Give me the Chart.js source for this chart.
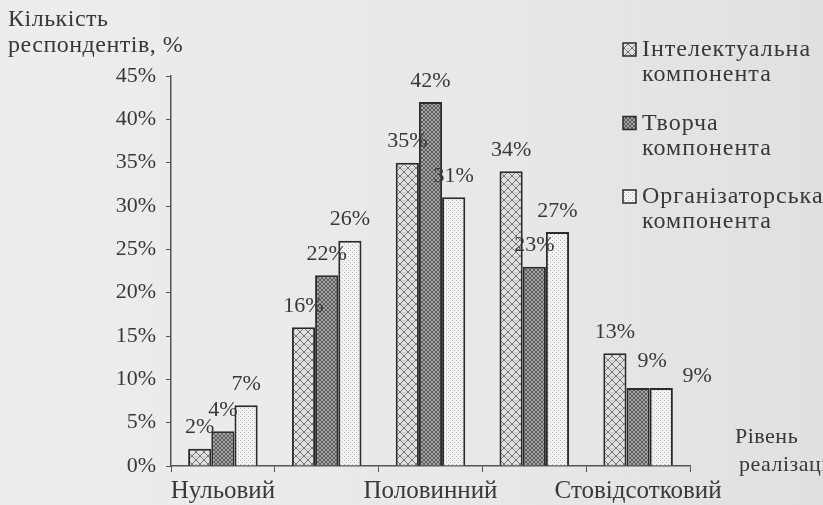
<!DOCTYPE html>
<html>
<head>
<meta charset="utf-8">
<script src="https://cdn.jsdelivr.net/npm/chart.js@4.4.1/dist/chart.umd.min.js"></script>
<style>
  html, body { margin: 0; padding: 0; background: #e8e8e8; }
  #wrap { position: relative; width: 823px; height: 505px; background: linear-gradient(90deg, #ededed 0%, #e8e8e8 60%, #e0e0e0 100%); }
</style>
</head>
<body>
<div id="wrap"><canvas id="chart" width="823" height="505"></canvas></div>
<script>
const categories = ["Нульовий", "", "Половинний", "", "Стовідсотковий"];
const seriesNames = [["Інтелектуальна", "компонента"], ["Творча", "компонента"], ["Організаторська", "компонента"]];
const intellectual = [2, 16, 35, 34, 13];
const creative = [4, 22, 42, 23, 9];
const organizational = [7, 26, 31, 27, 9];
const yTicks = [0, 5, 10, 15, 20, 25, 30, 35, 40, 45];

const INK = '#383838';
const SERIF = '"Liberation Serif", "DejaVu Serif", serif';

function makePattern(kind) {
    const c = document.createElement('canvas');
    const g = c.getContext('2d');
    if (kind === 0) {
        c.width = 8; c.height = 8;
        g.fillStyle = '#e2e2e2'; g.fillRect(0, 0, 8, 8);
        g.strokeStyle = '#707070'; g.lineWidth = 1;
        g.beginPath();
        g.moveTo(0, 0); g.lineTo(8, 8);
        g.moveTo(8, 0); g.lineTo(0, 8);
        g.stroke();
        g.fillStyle = '#8a8a8a'; g.fillRect(3.5, 0, 1, 1);
    } else if (kind === 1) {
        c.width = 4; c.height = 4;
        g.fillStyle = '#a4a4a4'; g.fillRect(0, 0, 4, 4);
        g.strokeStyle = '#5c5c5c'; g.lineWidth = 1;
        g.beginPath();
        g.moveTo(0, 0); g.lineTo(4, 4);
        g.moveTo(4, 0); g.lineTo(0, 4);
        g.stroke();
    } else {
        c.width = 4; c.height = 4;
        g.fillStyle = '#f3f3f3'; g.fillRect(0, 0, 4, 4);
        g.fillStyle = '#b4b4b4';
        g.fillRect(0, 0, 1, 1);
        g.fillRect(2, 2, 1, 1);
    }
    return g.createPattern(c, 'repeat');
}

const fills = [makePattern(0), makePattern(1), makePattern(2)];

// a couple of labels in the last group sit off to the right in the original
const labelNudge = { '1-4': [14, -6], '2-4': [36, 9] };

// labels above bars, plus axis titles and legend
const decor = {
    id: 'decor',
    afterDatasetsDraw(chart) {
        const ctx = chart.ctx;
        ctx.save();
        ctx.fillStyle = INK;
        ctx.font = '22px ' + SERIF;
        ctx.textAlign = 'center';
        ctx.textBaseline = 'bottom';
        chart.data.datasets.forEach((ds, i) => {
            chart.getDatasetMeta(i).data.forEach((bar, j) => {
                const n = labelNudge[i + '-' + j] || [0, 0];
                ctx.fillText(ds.data[j] + '%', bar.x + n[0], bar.y - 10 + n[1]);
            });
        });

        ctx.textAlign = 'left';
        ctx.textBaseline = 'middle';
        ctx.font = '24px ' + SERIF;
        ctx.letterSpacing = '0.5px';
        ctx.fillText('Кількість', 8, 20);
        ctx.fillText('респондентів, %', 8, 46);
        ctx.font = '22px ' + SERIF;
        ctx.fillText('Рівень', 735, 437);
        ctx.fillText('реалізації', 739, 465);

        ctx.font = '24px ' + SERIF;
        ctx.letterSpacing = '1px';
        seriesNames.forEach((lines, i) => {
            const y = 50 + i * 73.5;
            ctx.fillStyle = fills[i];
            ctx.fillRect(623, y - 7, 13, 13);
            ctx.strokeStyle = '#2a2a2a';
            ctx.lineWidth = 1.5;
            ctx.strokeRect(623, y - 7, 13, 13);
            ctx.fillStyle = INK;
            ctx.fillText(lines[0], 642, y);
            ctx.fillText(lines[1], 642, y + 25);
        });
        ctx.restore();
    }
};

new Chart(document.getElementById('chart'), {
    type: 'bar',
    data: {
        labels: categories,
        datasets: [
            { label: seriesNames[0].join(' '), data: intellectual, backgroundColor: fills[0] },
            { label: seriesNames[1].join(' '), data: creative, backgroundColor: fills[1] },
            { label: seriesNames[2].join(' '), data: organizational, backgroundColor: fills[2] }
        ]
    },
    options: {
        responsive: false,
        animation: false,
        layout: { padding: { top: 76, right: 133, left: 0, bottom: 0 } },
        datasets: {
            bar: {
                borderColor: '#2b2b2b',
                borderWidth: 2,
                categoryPercentage: 0.67,
                barPercentage: 1
            }
        },
        plugins: {
            legend: { display: false },
            tooltip: { enabled: false }
        },
        scales: {
            x: {
                grid: { offset: true, drawOnChartArea: false, tickLength: 6, color: '#555' },
                border: { color: '#555', width: 1.5 },
                ticks: { color: INK, font: { family: SERIF, size: 25 }, padding: 4, maxRotation: 0, autoSkip: false },
                afterFit(scale) { scale.height = 39; }
            },
            y: {
                min: 0,
                max: 45,
                afterBuildTicks(scale) { scale.ticks = yTicks.map(v => ({ value: v })); },
                grid: { drawOnChartArea: false, tickLength: 5, color: '#555' },
                border: { color: '#555', width: 1.5 },
                ticks: { color: INK, font: { family: SERIF, size: 22 }, padding: 10, callback: v => v + '%' },
                afterFit(scale) { scale.width = 171; }
            }
        }
    },
    plugins: [decor]
});
</script>
</body>
</html>
